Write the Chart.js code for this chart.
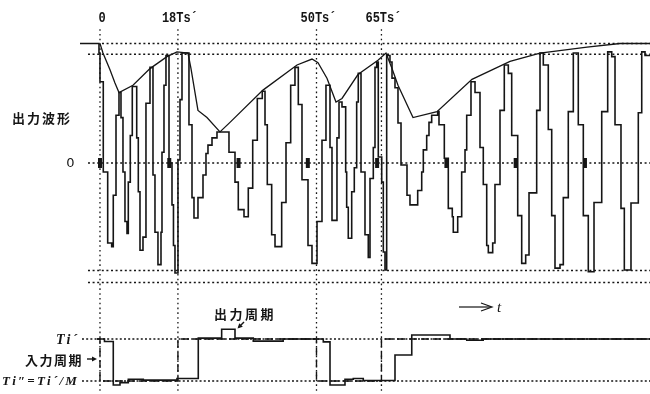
<!DOCTYPE html>
<html>
<head>
<meta charset="utf-8">
<script src="https://cdn.jsdelivr.net/npm/chart.js@4"></script>
<style>
  html, body { margin: 0; padding: 0; background: #fff; }
  canvas { display: block; }
</style>
</head>
<body>
<canvas id="chart" width="650" height="394"></canvas>
<script>
// Time axis is in units of Ts'; the output waveform is normalised to its full amplitude.

// Sample-and-hold output waveform: each level starts at waveT[i] and holds until the next one.
const waveT = [-4.62, -0.23, 0, 0.76, 1.78, 2.70, 3.07, 3.70, 4.39, 4.85, 5.31, 5.77, 6.24, 6.54, 7.00, 7.46,
  8.48, 8.85, 9.24, 9.93, 10.62, 11.55, 12.24, 12.70, 13.39, 14.09, 14.32, 14.78, 15.24, 15.94, 16.63, 16.97,
  17.32, 18.01, 18.48, 18.94, 20.55, 21.25, 21.71, 22.63, 23.79, 24.48, 24.94, 25.87, 27.02, 29.79, 31.18,
  31.94, 33.26, 34.25, 35.27, 36.33, 37.48, 38.11, 38.64, 39.65, 40.42, 41.96, 42.96, 44.04, 45.03, 45.80,
  46.65, 48.04, 48.96, 50.12, 51.27, 52.19, 53.12, 53.58, 54.73, 55.20, 55.89, 56.74, 56.97, 57.34, 58.13,
  58.73, 59.28, 59.65, 60.28, 61.20, 61.96, 62.36, 63.12, 63.51, 63.90, 64.27, 65.06, 65.43, 65.82, 66.21,
  66.97, 67.44, 68.13, 68.82, 69.52, 70.90, 71.59, 73.37, 74.30, 74.67, 75.45, 75.98, 76.60, 77.99, 78.29,
  79.52, 80.44, 81.36, 81.59, 82.61, 83.53, 84.30, 84.69, 85.68, 86.61, 87.76, 88.52, 89.31, 89.68, 90.69,
  91.22, 92.38, 93.37, 94.30, 95.08, 96.47, 97.39, 98.31, 99.08, 100.85, 101.62, 102.38, 103.53, 104.32,
  105.08, 106.24, 107.00, 108.15, 109.31, 110.46, 111.62, 112.77, 114.09, 115.87, 117.25, 118.18, 118.94,
  120.32, 121.09, 122.63, 124.32, 125.11, 125.87, 127.02];
const waveV = [1.00, 0.92, 0.68, -0.075, -0.67, -0.70, -0.27, 0.40, 0.59, 0.38, -0.075, -0.49, -0.59, -0.16, 0.23, 0.64,
  0.21, -0.24, -0.73, -0.62, 0.50, 0.80, -0.10, -0.58, -0.85, -0.58, 0.09, 0.65, 0.90, 0.00, -0.35, -0.69,
  -0.92, 0.025, 0.53, 0.92, 0.32, -0.29, -0.46, -0.29, -0.10, 0.08, 0.15, 0.21, 0.26, 0.09, -0.16,
  -0.39, -0.45, -0.21, 0.19, 0.54, 0.60, 0.32, -0.18, -0.60, -0.70, -0.33, 0.17, 0.65, 0.80, 0.49,
  -0.14, -0.69, -0.84, -0.49, 0.19, 0.65, 0.13, -0.48, 0.21, 0.51, 0.47, -0.075, -0.37, -0.63, -0.24,
  -0.04, 0.51, 0.75, -0.075, -0.60, -0.79, -0.13, 0.13, 0.80, 0.845, 0.05, -0.16, -0.745, -0.895, 0.90,
  0.845, 0.71, 0.63, 0.335, -0.017, -0.27, -0.35, -0.23, -0.075, 0.11, 0.23, 0.34, 0.40, 0.43, 0.32,
  0.04, -0.38, -0.45, -0.58, -0.45, -0.075, 0.11, 0.40, 0.68, 0.59, 0.13, -0.18, -0.69, -0.75, -0.67,
  -0.18, 0.44, 0.82, 0.75, 0.23, -0.44, -0.84, -0.77, -0.25, 0.44, 0.92, 0.82, 0.28, -0.44,
  -0.88, -0.85, -0.29, 0.43, 0.92, 0.32, -0.44, -0.91, -0.33, 0.43, 0.93, 0.89, 0.32,
  -0.38, -0.895, -0.335, 0.42, 0.93, 0.90, 0.90];

// Amplitude envelope of the output
const envT = [0, 0.69, 2.31, 3.46, 4.39, 7.62, 11.55, 15.47, 17.78, 20.32, 21.02, 22.63, 24.71, 27.71, 30.02,
  37.64, 45.50, 48.96, 50.35, 52.42, 54.50, 55.89, 59.58, 64.20, 66.05, 67.44, 68.82, 72.29, 77.83, 85.91,
  94.69, 101.62, 112.47, 120.09, 127.02];
const envV = [1.00, 0.92, 0.78, 0.67, 0.59, 0.65, 0.79, 0.89, 0.93, 0.92, 0.79, 0.44, 0.38, 0.26, 0.34,
  0.61, 0.82, 0.87, 0.84, 0.71, 0.51, 0.54, 0.74, 0.86, 0.92, 0.79, 0.65, 0.38, 0.43, 0.70,
  0.85, 0.92, 0.97, 1.00, 1.00];

// Period traces: 1 = Ti', 0 = Ti'' = Ti'/M
const outT = [-0.69, 1.04, 3.07, 4.62, 6.54, 10.0, 17.78, 22.70, 28.10, 31.18, 35.40, 42.30, 51.57, 53.12,
  56.58, 58.50, 60.80, 68.13, 72.00, 80.83, 84.70, 88.50, 127.02];
const outV = [1.00, 0.94, -0.095, -0.04, 0.04, 0.02, 0.06, 1.02, 1.23, 1.02, 0.95, 1.00, 0.93, -0.095,
  0.04, 0.06, 0.01, 0.62, 1.095, 1.00, 0.97, 1.00, 1.00];
const inT = [-0.69, 0, 18, 50, 65, 127.02];
const inV = [1, 0, 1, 0, 1, 1];

// Input period marks on the zero line, switching instants and their labels
const markerT = [0, 16, 32, 48, 64, 80, 96, 112];
const gridT = [0, 18, 50, 65];
const gridLabels = ['0', '18Ts´', '50Ts´', '65Ts´'];
const ampLevels = [1.0, 0.91, 0, -0.9, -1.0];
const periodLevels = [1, 0];

const INK = '#151515';
const pts = (xs, ys) => xs.map((x, i) => ({ x, y: ys[i] }));
const T_END = 127.02;

// 'before': a level is drawn from its own time up to the next sample time
const datasets = [];
datasets.push({ data: pts(waveT, waveV), stepped: 'before', borderColor: INK, borderWidth: 1.6, yAxisID: 'y' });
datasets.push({ data: pts(envT, envV), borderColor: INK, borderWidth: 1.3, tension: 0, yAxisID: 'y' });
datasets.push({ data: pts(outT, outV), stepped: 'before', borderColor: INK, borderWidth: 1.6, yAxisID: 'y2' });
datasets.push({ data: pts(inT, inV), stepped: 'before', borderColor: INK, borderWidth: 1.4, borderDash: [8, 4], yAxisID: 'y2' });
datasets.push({
  data: markerT.map(t => ({ x: t, y: 0 })), showLine: false, yAxisID: 'y',
  pointStyle: 'line', pointRotation: 90, pointRadius: 5, pointBorderWidth: 4, pointBorderColor: INK
});
ampLevels.forEach((v, i) => datasets.push({
  data: [{ x: i === 0 ? 0.46 : -2.77, y: v }, { x: T_END, y: v }],
  borderColor: INK, borderWidth: 1.4, borderDash: [2, 2.6], yAxisID: 'y'
}));
periodLevels.forEach(v => datasets.push({
  data: [{ x: -4.16, y: v }, { x: T_END, y: v }],
  borderColor: INK, borderWidth: 1.3, borderDash: [2, 2.2], yAxisID: 'y2'
}));
gridT.forEach(t => datasets.push({
  data: [{ x: t, y: 1.12 }, { x: t, y: -1.933 }],
  borderColor: INK, borderWidth: 1.3, borderDash: [1.6, 3.2], yAxisID: 'y'
}));
datasets.forEach(d => { if (d.pointStyle === undefined) d.pointRadius = 0; });

function spaced(ctx, str, x0, y0, gap, pitch) {
  let xx = x0;
  for (const ch of str) {
    ctx.fillText(ch, xx, y0);
    xx += pitch ? pitch : ctx.measureText(ch).width + gap;
  }
}

function arrowHead(ctx, x1, y1, x2, y2, len, half, filled) {
  const a = Math.atan2(y2 - y1, x2 - x1);
  const bx = x2 - len * Math.cos(a), by = y2 - len * Math.sin(a);
  const nx = -Math.sin(a) * half, ny = Math.cos(a) * half;
  ctx.beginPath();
  ctx.moveTo(bx + nx, by + ny);
  ctx.lineTo(x2, y2);
  ctx.lineTo(bx - nx, by - ny);
  if (filled) { ctx.closePath(); ctx.fill(); } else { ctx.stroke(); }
}

const annotations = {
  id: 'annotations',
  afterDatasetsDraw(chart) {
    const { ctx, scales: { x, y, y2 } } = chart;
    ctx.save();
    ctx.fillStyle = INK;
    ctx.strokeStyle = INK;
    ctx.textBaseline = 'middle';

    // switching instants along the top
    ctx.textAlign = 'center';
    gridT.forEach((t, i) => {
      ctx.save();
      ctx.translate(x.getPixelForValue(t) + 2, 18);
      ctx.scale(1, 1.25);
      ctx.font = 'bold 12px "Liberation Mono"';
      ctx.fillText(gridLabels[i], 0, 0);
      ctx.restore();
    });

    ctx.textAlign = 'left';
    ctx.font = 'bold 13px "Noto Sans CJK JP"';
    spaced(ctx, '出力波形', 12, 118, 0, 15);
    spaced(ctx, '出力周期', 214, 314, 0, 15.5);
    spaced(ctx, '入力周期', 25, 360, 0, 14.5);

    ctx.font = '13px "DejaVu Sans"';
    ctx.textAlign = 'center';
    ctx.fillText('0', 70.5, y.getPixelForValue(0) + 1);

    ctx.textAlign = 'left';
    ctx.font = 'italic bold 14px "Liberation Serif"';
    spaced(ctx, 'Ti´', 56, y2.getPixelForValue(1) + 1, 2);
    ctx.font = 'italic bold 13px "Liberation Serif"';
    spaced(ctx, 'Ti″=Ti´/M', 2, y2.getPixelForValue(0) + 1, 2.2);

    // small pointers next to the period labels
    ctx.lineWidth = 1.4;
    ctx.beginPath(); ctx.moveTo(87, 359); ctx.lineTo(95, 359); ctx.stroke();
    arrowHead(ctx, 87, 359, 97, 359, 5, 2.5, true);
    ctx.beginPath(); ctx.moveTo(244, 322); ctx.lineTo(239, 327); ctx.stroke();
    arrowHead(ctx, 244, 322, 237.5, 328.5, 5, 2.5, true);

    // time direction
    ctx.lineWidth = 1.2;
    ctx.beginPath(); ctx.moveTo(459, 307); ctx.lineTo(491, 307); ctx.stroke();
    arrowHead(ctx, 459, 307, 492, 307, 11, 4, false);
    ctx.font = 'italic 15px "Liberation Serif"';
    ctx.fillText('t', 497, 308);
    ctx.restore();
  }
};

new Chart(document.getElementById('chart'), {
  type: 'line',
  data: { datasets },
  options: {
    responsive: false,
    animation: false,
    devicePixelRatio: 1,
    events: [],
    layout: { padding: 0, autoPadding: false },
    plugins: { legend: { display: false }, tooltip: { enabled: false } },
    scales: {
      x: { type: 'linear', display: false, min: -23.09, max: T_END },
      y: { type: 'linear', display: false, min: -1.933, max: 1.364 },
      y2: { type: 'linear', display: false, min: -0.310, max: 9.071 }
    }
  },
  plugins: [annotations]
});
</script>
</body>
</html>
